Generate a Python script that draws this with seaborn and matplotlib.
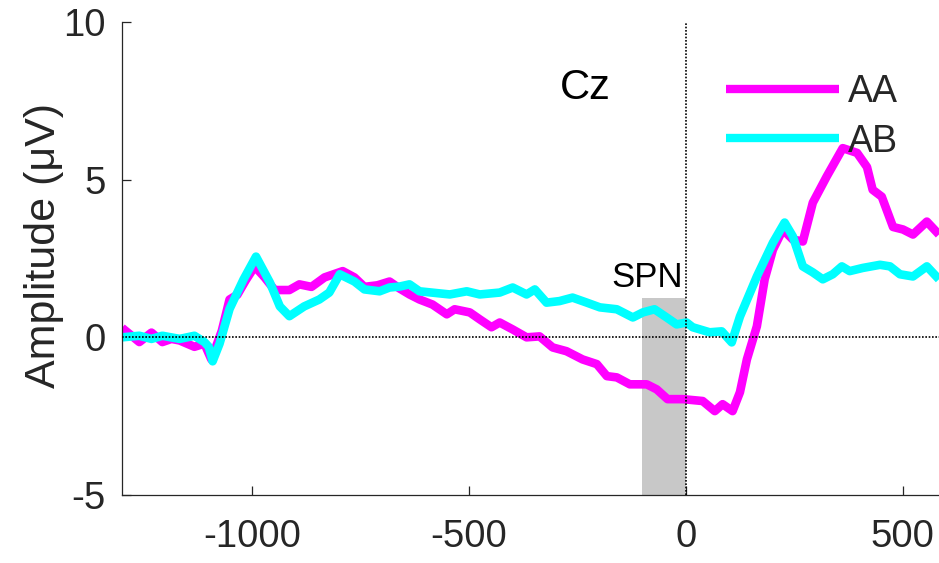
import matplotlib
matplotlib.use("Agg")
import matplotlib.pyplot as plt
from matplotlib.patches import Rectangle
from matplotlib.lines import Line2D
import seaborn as sns
import pandas as pd

# ---- data ----
aa_time = [-1300, -1260, -1232, -1207, -1186, -1167, -1133, -1110, -1094, -1070,
           -1052, -1034, -1015, -994, -971, -948, -914, -891, -863, -833,
           -791, -764, -741, -711, -683, -660, -637, -614, -584, -551,
           -533, -498, -475, -448, -429, -399, -367, -337, -307, -275,
           -238, -205, -182, -159, -129, -90, -67, -42, -7, 39,
           67, 85, 108, 125, 141, 164, 182, 201, 224, 247,
           270, 293, 325, 362, 395, 418, 431, 452, 478, 501,
           524, 556, 584]
aa_amp = [0.3, -0.15, 0.15, -0.15, -0.05, -0.1, -0.3, -0.2, -0.7, 0.2,
          1.2, 1.35, 1.8, 2.25, 1.9, 1.5, 1.5, 1.68, 1.6, 1.9,
          2.1, 1.9, 1.6, 1.65, 1.77, 1.55, 1.36, 1.2, 1.04, 0.73,
          0.89, 0.79, 0.57, 0.32, 0.47, 0.25, 0.0, 0.03, -0.32, -0.44,
          -0.7, -0.85, -1.23, -1.27, -1.49, -1.49, -1.65, -1.96, -1.96, -2.02,
          -2.34, -2.12, -2.34, -1.74, -0.7, 0.35, 1.84, 2.78, 3.42, 3.1,
          3.04, 4.27, 5.1, 6.0, 5.85, 5.4, 4.68, 4.46, 3.5, 3.42,
          3.26, 3.67, 3.26]

ab_time = [-1300, -1260, -1232, -1207, -1167, -1133, -1110, -1100, -1091, -1075,
           -1052, -1020, -991, -959, -936, -914, -880, -845, -822, -798,
           -764, -741, -706, -683, -660, -637, -614, -544, -505, -475,
           -429, -399, -367, -348, -321, -291, -261, -228, -198, -159,
           -122, -99, -72, -44, -21, 2, 16, 55, 83, 106,
           125, 164, 201, 228, 247, 270, 293, 316, 339, 360,
           378, 408, 448, 471, 494, 524, 556, 584]
ab_amp = [0.0, 0.05, -0.05, 0.05, -0.05, 0.05, -0.15, -0.3, -0.76, -0.2,
          0.9, 1.83, 2.56, 1.74, 0.98, 0.67, 0.98, 1.2, 1.42, 2.0,
          1.77, 1.52, 1.46, 1.58, 1.61, 1.68, 1.46, 1.36, 1.46, 1.36,
          1.42, 1.58, 1.36, 1.52, 1.1, 1.15, 1.26, 1.1, 0.95, 0.89,
          0.63, 0.79, 0.89, 0.63, 0.41, 0.47, 0.32, 0.16, 0.19, -0.16,
          0.66, 1.93, 3.0, 3.64, 3.2, 2.25, 2.06, 1.84, 2.0, 2.25,
          2.1, 2.2, 2.3, 2.25, 2.0, 1.93, 2.25, 1.84]

conditions = ["AA", "AB"]
colors = ["#FF00FF", "#00FFFF"]
x_ticks = [-1000, -500, 0, 500]
y_ticks = [-5, 0, 5, 10]
spn_window = [-100, 0]
spn_top = 1.25

df = pd.concat([
    pd.DataFrame({"time": aa_time, "amp": aa_amp, "cond": "AA"}),
    pd.DataFrame({"time": ab_time, "amp": ab_amp, "cond": "AB"}),
], ignore_index=True)

sns.set_style("ticks")
plt.rcParams["font.family"] = ["Liberation Sans", "DejaVu Sans"]

W, H = 939, 563
fig = plt.figure(figsize=(W / 100, H / 100), dpi=100)
ax = fig.add_axes([122 / W, 1 - 495 / H, 1 - 122 / W, (495 - 22) / H])

# SPN window
ax.add_patch(Rectangle((spn_window[0], -5), spn_window[1] - spn_window[0], spn_top + 5,
                       facecolor="#C8C8C8", edgecolor="none", zorder=1))

sns.lineplot(data=df, x="time", y="amp", hue="cond", hue_order=conditions,
             palette=dict(zip(conditions, colors)), linewidth=6.2, sort=False,
             estimator=None, ax=ax, zorder=2, legend=False)
for ln in ax.lines:
    ln.set_solid_joinstyle("round")
    ln.set_solid_capstyle("butt")

ax.axhline(0, color="black", lw=1.2, ls=(0, (1, 1)), zorder=3)
ax.axvline(0, color="black", lw=1.2, ls=(0, (1, 1)), zorder=3)

ax.set_xlim(-1300, 584)
ax.set_ylim(-5, 10)
ax.set_xticks(x_ticks)
ax.set_yticks(y_ticks)
ax.set_xticklabels([str(v) for v in x_ticks])
ax.set_yticklabels([str(v) for v in y_ticks])

sns.despine(ax=ax)
for s in ["left", "bottom"]:
    ax.spines[s].set_linewidth(0.9)
    ax.spines[s].set_color("#262626")
ax.tick_params(direction="in", length=6.5, width=0.9, color="#262626")
ax.tick_params(axis="x", pad=17)
ax.tick_params(axis="y", pad=12)
for lab in ax.get_xticklabels() + ax.get_yticklabels():
    lab.set_fontsize(27.5)
    lab.set_color("#262626")

ax.set_xlabel("")
ax.set_ylabel("Amplitude (μV)", fontsize=31, color="#262626")
ax.yaxis.label.set_va("center")
ax.yaxis.set_label_coords((44 - 122) / 817, (495 - 246) / 473)

ax.text(-231, 7.9, "Cz", fontsize=30, ha="center", va="center", color="black")
ax.text(-89, 1.9, "SPN", fontsize=25, ha="center", va="center", color="black")

handles = [Line2D([], [], color=c, lw=6, solid_capstyle="butt") for c in colors]
leg = ax.legend(handles, conditions, loc="upper left",
                bbox_to_anchor=((726 - 122) / 817, (495 - 74) / 473),
                frameon=False, fontsize=27, handlelength=3.0, handletextpad=0.25,
                labelspacing=0.36, borderpad=0, borderaxespad=0)

fig.savefig("out.png", dpi=100)
